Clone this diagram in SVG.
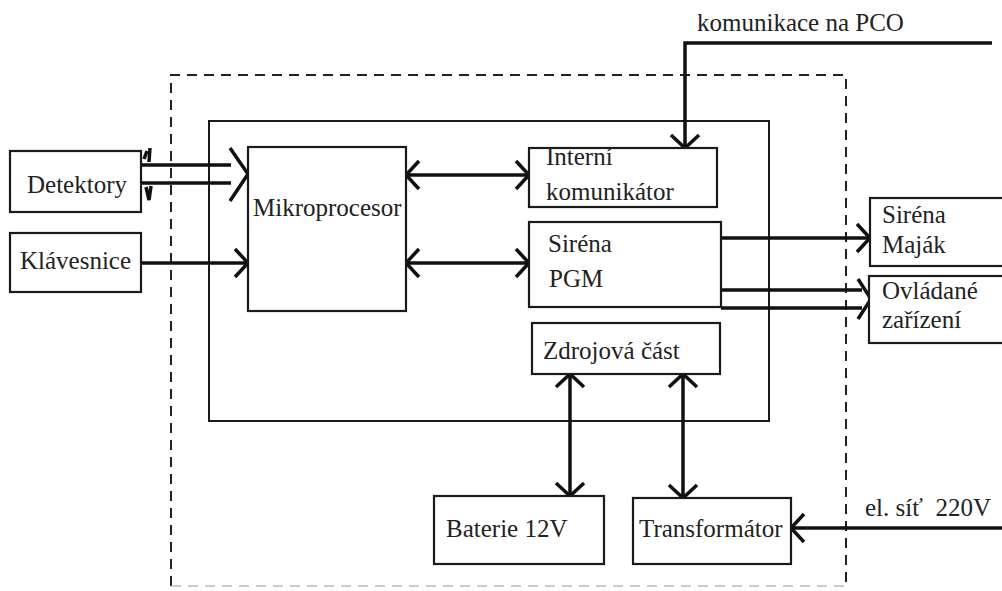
<svg xmlns="http://www.w3.org/2000/svg" width="1002" height="591" viewBox="0 0 1002 591">
<defs>
<style>
.box{fill:#fff;stroke:#1a1a1a;stroke-width:2.2}
.frame{fill:none;stroke:#1a1a1a;stroke-width:2}
.dash{fill:none;stroke:#222;stroke-width:2;stroke-dasharray:10 7}
.conn{fill:none;stroke:#111;stroke-width:3.5}
.t{font-size:25px;fill:#222}
</style>
<marker id="ah" viewBox="-20 -20 24 40" refX="0" refY="0" markerWidth="24" markerHeight="40" markerUnits="userSpaceOnUse" orient="auto-start-reverse">
<path d="M-13,-14 L0,0 L-13,14" fill="none" stroke="#111" stroke-width="3.5"/>
</marker>
</defs>
<rect width="1002" height="591" fill="#fff"/>

<g id="outer-frame">
<path class="dash" d="M171,586 L171,75 L846,75 L846,586"/>
<path d="M171,586 L846,586" fill="none" stroke="#bbb" stroke-width="1.5" stroke-dasharray="10 7"/>
</g>
<g id="inner-frame"><rect class="frame" x="209" y="121" width="560" height="300"/></g>

<g id="connectors">
<path class="conn" stroke-width="3" d="M141,165 L231,165 M141,183 L231,183"/>
<path class="conn" d="M230,148 L248,174 L230,201"/>
<path class="conn" stroke-width="1.5" d="M147,151 L144,159 M150,148 L149,162 M146,187 L149,200 L151,186"/>
<line class="conn" x1="141" y1="263" x2="248" y2="263" marker-end="url(#ah)"/>
<line class="conn" x1="406" y1="175" x2="529" y2="175" marker-start="url(#ah)" marker-end="url(#ah)"/>
<line class="conn" x1="406" y1="263" x2="529" y2="263" marker-start="url(#ah)" marker-end="url(#ah)"/>
<polyline class="conn" points="992,43 685,43 685,148" marker-end="url(#ah)"/>
<line class="conn" x1="721" y1="238" x2="870" y2="238" marker-end="url(#ah)"/>
<path class="conn" stroke-width="3" d="M721,290 L862,290 M721,308 L862,308"/>
<path class="conn" stroke-width="4" d="M858,279 L871,299 L858,319"/>
<line class="conn" x1="570" y1="374" x2="570" y2="496" marker-start="url(#ah)" marker-end="url(#ah)"/>
<line class="conn" x1="683" y1="374" x2="683" y2="498" marker-start="url(#ah)" marker-end="url(#ah)"/>
<line class="conn" x1="1002" y1="528" x2="791" y2="528" marker-end="url(#ah)"/>
</g>

<g font-family="'Liberation Serif', 'Times New Roman', 'DejaVu Serif', serif">
<g id="detektory"><rect class="box" x="10" y="151" width="131" height="61"/><text class="t" x="27" y="193">Detektory</text></g>
<g id="klavesnice"><rect class="box" x="10" y="233" width="131" height="59"/><text class="t" x="20" y="269">Klávesnice</text></g>
<g id="mikroprocesor"><rect class="box" x="248" y="147" width="158" height="164"/><text class="t" x="253" y="216">Mikroprocesor</text></g>
<g id="interni"><rect class="box" x="529" y="148" width="188" height="59"/><text class="t" x="546" y="165">Interní</text><text class="t" x="546" y="200">komunikátor</text></g>
<g id="sirena-pgm"><rect class="box" x="529" y="222" width="192" height="85"/><text class="t" x="548" y="252">Siréna</text><text class="t" x="549" y="287">PGM</text></g>
<g id="zdrojova"><rect class="box" x="532" y="323" width="188" height="51"/><text class="t" x="543" y="359">Zdrojová část</text></g>
<g id="baterie"><rect class="box" x="434" y="496" width="170" height="68"/><text class="t" x="446" y="537">Baterie 12V</text></g>
<g id="transformator"><rect class="box" x="633" y="498" width="158" height="66"/><text class="t" x="639" y="537">Transformátor</text></g>
<g id="sirena-majak"><rect class="box" x="870" y="198" width="140" height="68"/><text class="t" x="882" y="223">Siréna</text><text class="t" x="882" y="253">Maják</text></g>
<g id="ovladane"><rect class="box" x="869" y="276" width="140" height="67"/><text class="t" x="882" y="299">Ovládané</text><text class="t" x="882" y="328">zařízení</text></g>
<g id="labels">
<text class="t" x="697" y="31">komunikace na PCO</text>
<text class="t" x="865" y="516" xml:space="preserve">el. síť  220V</text>
</g>
</g>
</svg>
